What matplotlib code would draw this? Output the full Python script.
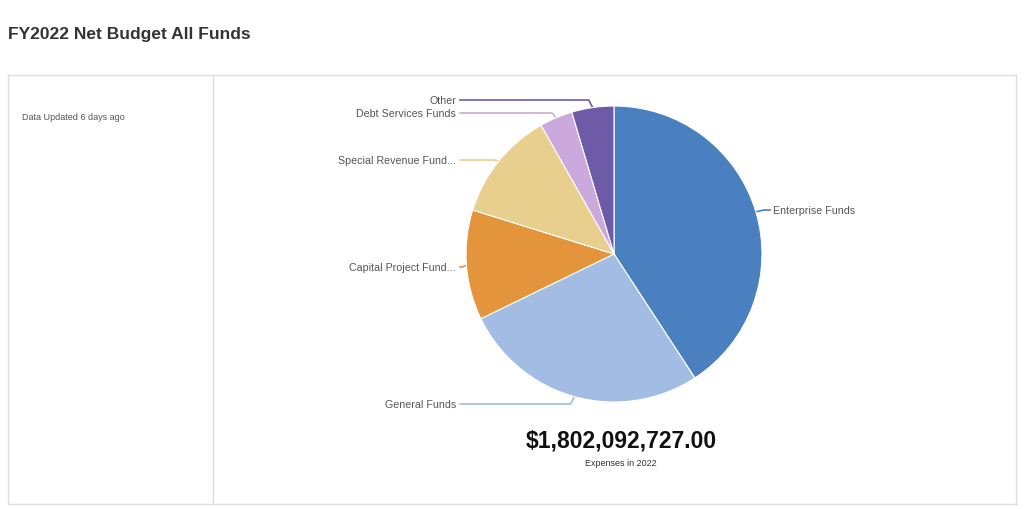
import numpy as np
import matplotlib.pyplot as plt

# data (share of total, percent)
categories = ['Enterprise Funds', 'General Funds', 'Capital Project Fund...',
              'Special Revenue Fund...', 'Debt Services Funds', 'Other']
shares = [40.8, 27.0, 12.0, 12.0, 3.6, 4.6]
colors = ['#4a80c0', '#a3bce3', '#e4943a', '#e8cf8d', '#cba9dd', '#6d5ba8']
total_label = '$1,802,092,727.00'
sub_label = 'Expenses in 2022'

W, H = 1024, 510
fig = plt.figure(figsize=(W / 100, H / 100), dpi=100)
font = ['Liberation Sans', 'DejaVu Sans']

# background axes in pixel coords
bg = fig.add_axes([0, 0, 1, 1])
bg.set_xlim(0, W)
bg.set_ylim(H, 0)
bg.axis('off')

bg.text(8, 35, 'FY2022 Net Budget All Funds', fontsize=12.5, fontweight='bold',
        color='#333333', va='center', ha='left', family=font)
bg.plot([8, 1016, 1016, 8, 8], [76, 76, 505, 505, 76], color='#dddddd', lw=1)
bg.plot([213, 213], [76, 505], color='#dddddd', lw=1)
bg.text(22, 117, 'Data Updated 6 days ago', fontsize=6.5, color='#555555',
        va='center', ha='left', family=font)

cx, cy, r = 614, 255, 148
pa = fig.add_axes([(cx - r) / W, (H - cy - r) / H, 2 * r / W, 2 * r / H])
wedges, _ = pa.pie(shares, colors=colors, startangle=90, counterclock=False,
                   radius=1, wedgeprops=dict(edgecolor='white', linewidth=0.8))
pa.set_xlim(-1, 1)
pa.set_ylim(-1, 1)
pa.axis('off')

# label y positions in pixels, one per slice
label_y = [211, 405, 268, 161, 114, 101]
for w, name, col, ly in zip(wedges, categories, colors, label_y):
    mid = np.deg2rad((w.theta1 + w.theta2) / 2)
    ax_ = cx + r * np.cos(mid)
    ay_ = cy - r * np.sin(mid)
    if ax_ > cx:
        ex = ax_ + 8
        bg.plot([ax_, ex, 770], [ay_, ly, ly], color=col, lw=1.2)
        bg.text(773, ly, name, fontsize=7.7, color='#555555', va='center',
                ha='left', family=font)
    else:
        ex = ax_ - 4
        bg.plot([ax_, ex, 460], [ay_, ly, ly], color=col, lw=1.2)
        bg.text(456, ly, name, fontsize=7.7, color='#555555', va='center',
                ha='right', family=font)

bg.text(621, 441, total_label, fontsize=16.5, fontweight='bold', color='#111111',
        ha='center', va='center', family=font)
bg.text(621, 464, sub_label, fontsize=6.5, color='#333333', ha='center',
        va='center', family=font)

fig.savefig('out.png', dpi=100)
